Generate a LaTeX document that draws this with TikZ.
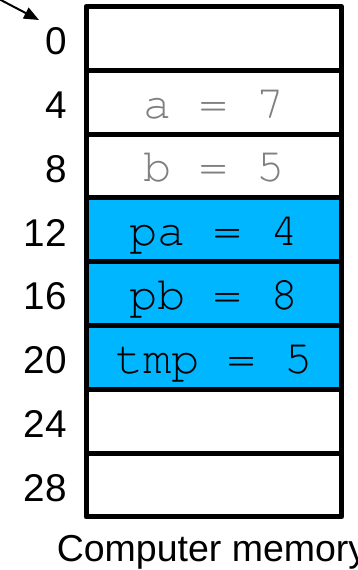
\documentclass[tikz,border=0pt]{standalone}
\usepackage{fontspec}
\setmainfont{Liberation Sans}
\newfontfamily\cellmono{texgyrecursor-regular.otf}
\usetikzlibrary{arrows.meta}
\definecolor{memcyan}{RGB}{0,182,255}
\definecolor{memgray}{RGB}{128,128,128}
\tikzset{
  cell/.style={draw=black, line width=5pt, line join=round, rectangle, outer sep=0pt, inner sep=0pt,
    minimum width=255.5pt, minimum height=63.8pt, text height=31.6pt, text depth=0pt,
    font=\cellmono\fontsize{47}{50}\selectfont},
  used/.style={fill=memcyan, text=black},
  old/.style={text=memgray},
  addr/.style={inner sep=0pt, outer sep=0pt, anchor=east, text height=32.4pt, text depth=0pt,
    font=\fontsize{38.7}{40}\selectfont},
  caption/.style={inner sep=0pt, anchor=base west, font=\fontsize{37.5}{40}\selectfont},
  pointer/.style={-{Triangle[length=15pt,width=12pt]}, line width=2pt}
}
\begin{document}
\begin{tikzpicture}[x=1pt,y=-1pt]
\useasboundingbox (0,0) rectangle (358,570);
\node[cell] (c0) at (213.75,38.4) {};
\node[cell, old] (c1) at (213.75,102.2) {a = 7};
\node[cell, old] (c2) at (213.75,166.0) {b = 5};
\node[cell, used] (c3) at (213.75,229.8) {pa = 4};
\node[cell, used] (c4) at (213.75,293.6) {pb = 8};
\node[cell, used] (c5) at (213.75,357.4) {tmp = 5};
\node[cell] (c6) at (213.75,421.2) {};
\node[cell] (c7) at (213.75,485.0) {};
\node[addr] (l0) at ([xshift=-19pt]c0.west) {0};
\node[addr] (l1) at ([xshift=-19pt]c1.west) {4};
\node[addr] (l2) at ([xshift=-19pt]c2.west) {8};
\node[addr] (l3) at ([xshift=-19pt]c3.west) {12};
\node[addr] (l4) at ([xshift=-19pt]c4.west) {16};
\node[addr] (l5) at ([xshift=-19pt]c5.west) {20};
\node[addr] (l6) at ([xshift=-19pt]c6.west) {24};
\node[addr] (l7) at ([xshift=-19pt]c7.west) {28};
\node[caption] (cap) at (56.6,561) {Computer memory};
\coordinate (ps) at (-3,-2);
\coordinate (pt) at (39,20);
\draw[pointer] (ps) -- (pt);
\end{tikzpicture}
\end{document}
